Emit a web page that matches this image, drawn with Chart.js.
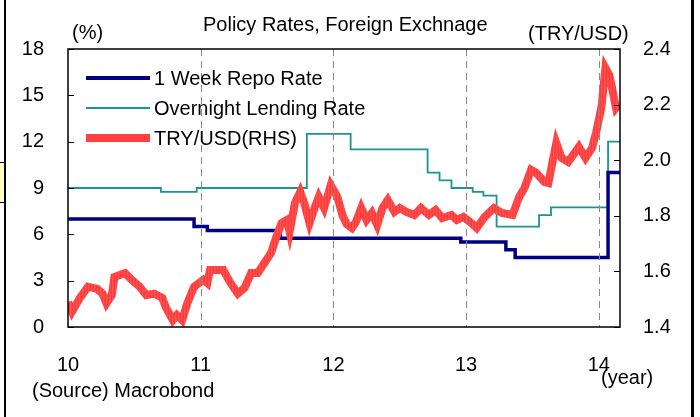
<!DOCTYPE html>
<html>
<head>
<meta charset="utf-8">
<script src="https://cdn.jsdelivr.net/npm/chart.js@4"></script>
<style>
  body { margin: 0; background: #fff; }
  #wrap { position: relative; width: 700px; height: 417px; font-family: "Liberation Sans", Arial, sans-serif; color: #000; }
  canvas { position: absolute; left: 0; top: 0; }
  .t { position: absolute; font-size: 20px; line-height: 1; white-space: nowrap; }
  .frame { position: absolute; top: 0; height: 417px; background: #000; }
  .key { position: absolute; left: 86px; width: 64px; }
</style>
</head>
<body>
<div id="wrap">
  <canvas id="chart" width="700" height="417"></canvas>
  <div class="frame" style="left:4px;width:2px"></div>
  <div class="frame" style="left:691px;width:3px"></div>
  <div style="position:absolute;left:0;top:162px;width:4px;height:39px;background:#ffffc0;border-top:1px solid #000;border-bottom:1px solid #000"></div>

  <div class="t" style="left:203px;top:14px">Policy Rates, Foreign Exchnage</div>
  <div class="t" style="left:72px;top:22px">(%)</div>
  <div class="t" style="left:528px;top:23px">(TRY/USD)</div>
  <div class="t" style="left:601px;top:367px">(year)</div>
  <div class="t" style="left:32px;top:380px">(Source) Macrobond</div>

  <div class="key" style="top:76px;height:4px;background:#000080"></div>
  <div class="t" style="left:154px;top:68px">1 Week Repo Rate</div>
  <div class="key" style="top:107px;height:2px;background:#1a9595"></div>
  <div class="t" style="left:154px;top:98px">Overnight Lending Rate</div>
  <div class="key" style="top:134px;height:8px;background:#ff4040"></div>
  <div class="t" style="left:154px;top:128px">TRY/USD(RHS)</div>
</div>
<script>
// dates are fractional years (10 = Jan 2010)
const repoDates = [10.00, 10.95, 11.05, 11.60, 12.96, 13.30, 13.37, 14.07, 14.16];
const repoValues = [7.0, 6.5, 6.25, 5.75, 5.5, 5.0, 4.5, 10.0, 10.0];

const lendingDates = [10.00, 10.70, 10.97, 11.80, 12.13, 12.71, 12.80, 12.89, 13.05, 13.13, 13.23, 13.55, 13.64, 14.07, 14.16];
const lendingValues = [9.0, 8.75, 9.0, 12.5, 11.5, 10.0, 9.5, 9.0, 8.75, 8.5, 6.5, 7.25, 7.75, 12.0, 12.0];

const fxDates = [10.00, 10.03, 10.09, 10.15, 10.22, 10.26, 10.29, 10.33, 10.35, 10.43,
  10.48, 10.54, 10.59, 10.65, 10.71, 10.74, 10.79, 10.82, 10.86, 10.90,
  10.95, 11.02, 11.05, 11.07, 11.17, 11.22, 11.28, 11.33, 11.38, 11.43,
  11.48, 11.53, 11.57, 11.61, 11.65, 11.67, 11.71, 11.75, 11.78, 11.82,
  11.86, 11.89, 11.93, 11.98, 12.03, 12.07, 12.10, 12.14, 12.17, 12.21,
  12.25, 12.29, 12.33, 12.37, 12.41, 12.46, 12.50, 12.55, 12.61, 12.66,
  12.72, 12.77, 12.82, 12.89, 12.93, 12.98, 13.04, 13.08, 13.14, 13.21,
  13.27, 13.35, 13.40, 13.44, 13.49, 13.53, 13.59, 13.62, 13.65, 13.68,
  13.72, 13.77, 13.85, 13.90, 13.95, 13.98, 14.02, 14.05, 14.08, 14.10,
  14.13, 14.15];
const fxValues = [1.49, 1.455, 1.505, 1.545, 1.537, 1.52, 1.485, 1.515, 1.58, 1.594,
  1.57, 1.545, 1.515, 1.52, 1.505, 1.468, 1.425, 1.443, 1.425, 1.486,
  1.545, 1.57, 1.558, 1.605, 1.605, 1.562, 1.52, 1.54, 1.594, 1.594,
  1.63, 1.666, 1.724, 1.774, 1.785, 1.742, 1.846, 1.886, 1.846, 1.774,
  1.83, 1.868, 1.828, 1.91, 1.868, 1.80, 1.77, 1.756, 1.778, 1.828,
  1.785, 1.81, 1.767, 1.828, 1.857, 1.814, 1.828, 1.814, 1.803, 1.828,
  1.803, 1.821, 1.792, 1.803, 1.785, 1.796, 1.774, 1.756, 1.796, 1.828,
  1.81, 1.803, 1.868, 1.90, 1.965, 1.954, 1.922, 1.918, 1.99, 2.062,
  2.008, 1.994, 2.048, 2.008, 2.044, 2.10, 2.19, 2.332, 2.306, 2.26,
  2.188, 2.20];

const yearTicks = [11, 12, 13, 14];

const pairs = (xs, ys) => xs.map((x, i) => ({ x, y: ys[i] }));

// thin vertical stripes, like the daily noise in the original band
function stripes() {
  const c = document.createElement("canvas");
  c.width = 3; c.height = 1;
  const g = c.getContext("2d");
  ["#ff3a3a", "#ff5252", "#ff4444"].forEach((col, i) => { g.fillStyle = col; g.fillRect(i, 0, 1, 1); });
  return g.createPattern(c, "repeat");
}

// frame, inward ticks and dashed year lines
const framePlugin = {
  id: "frame",
  afterDatasetsDraw(chart) {
    const { ctx, chartArea: a, scales } = chart;
    ctx.save();
    ctx.strokeStyle = "#888";
    ctx.lineWidth = 1;
    ctx.setLineDash([7, 5]);
    for (const v of yearTicks) {
      const px = Math.round(scales.x.getPixelForValue(v)) + 0.5;
      ctx.beginPath();
      ctx.moveTo(px, a.top);
      ctx.lineTo(px, a.bottom);
      ctx.stroke();
    }
    ctx.setLineDash([]);
    ctx.strokeStyle = "#000";
    ctx.lineWidth = 1.5;
    ctx.strokeRect(a.left, a.top, a.right - a.left, a.bottom - a.top);
    ctx.lineWidth = 1;
    for (const t of scales.y.ticks) {
      const py = Math.round(scales.y.getPixelForValue(t.value)) + 0.5;
      ctx.beginPath(); ctx.moveTo(a.left, py); ctx.lineTo(a.left + 6, py); ctx.stroke();
    }
    for (const t of scales.y2.ticks) {
      const py = Math.round(scales.y2.getPixelForValue(t.value)) + 0.5;
      ctx.beginPath(); ctx.moveTo(a.right, py); ctx.lineTo(a.right - 6, py); ctx.stroke();
    }
    ctx.restore();
  }
};

Chart.defaults.font.family = '"Liberation Sans", Arial, sans-serif';
Chart.defaults.font.size = 20;
Chart.defaults.color = "#000";

new Chart(document.getElementById("chart"), {
  type: "line",
  data: {
    datasets: [
      {
        label: "TRY/USD(RHS)",
        data: pairs(fxDates, fxValues),
        yAxisID: "y2",
        borderColor: stripes(),
        borderWidth: 8,
        pointRadius: 0,
        tension: 0,
        order: 0,
      },
      {
        label: "1 Week Repo Rate",
        data: pairs(repoDates, repoValues),
        yAxisID: "y",
        borderColor: "#000080",
        borderWidth: 3.5,
        pointRadius: 0,
        stepped: true,
        order: 1,
      },
      {
        label: "Overnight Lending Rate",
        data: pairs(lendingDates, lendingValues),
        yAxisID: "y",
        borderColor: "#1a9595",
        borderWidth: 1.8,
        pointRadius: 0,
        stepped: true,
        order: 2,
      },
    ],
  },
  options: {
    responsive: false,
    animation: false,
    layout: { padding: { top: 49, left: 0, right: 0, bottom: 0 } },
    plugins: { legend: { display: false }, tooltip: { enabled: false } },
    scales: {
      x: {
        type: "linear",
        min: 10,
        max: 14.16,
        grid: { display: false },
        border: { display: false },
        ticks: {
          stepSize: 1,
          includeBounds: false,
          autoSkip: false,
          maxRotation: 0,
          padding: 18,
          callback: (v) => (Number.isInteger(v) ? String(v) : ""),
        },
        afterFit: (s) => { s.height = 90; },
      },
      y: {
        position: "left",
        min: 0,
        max: 18,
        grid: { display: false },
        border: { display: false },
        ticks: { stepSize: 3, padding: 16 },
        afterFit: (s) => { s.width = 68; },
      },
      y2: {
        position: "right",
        min: 1.4,
        max: 2.4,
        grid: { display: false },
        border: { display: false },
        ticks: { stepSize: 0.2, padding: 15, callback: (v) => v.toFixed(1) },
        afterFit: (s) => { s.width = 80; },
      },
    },
  },
  plugins: [framePlugin],
});
</script>
</body>
</html>
